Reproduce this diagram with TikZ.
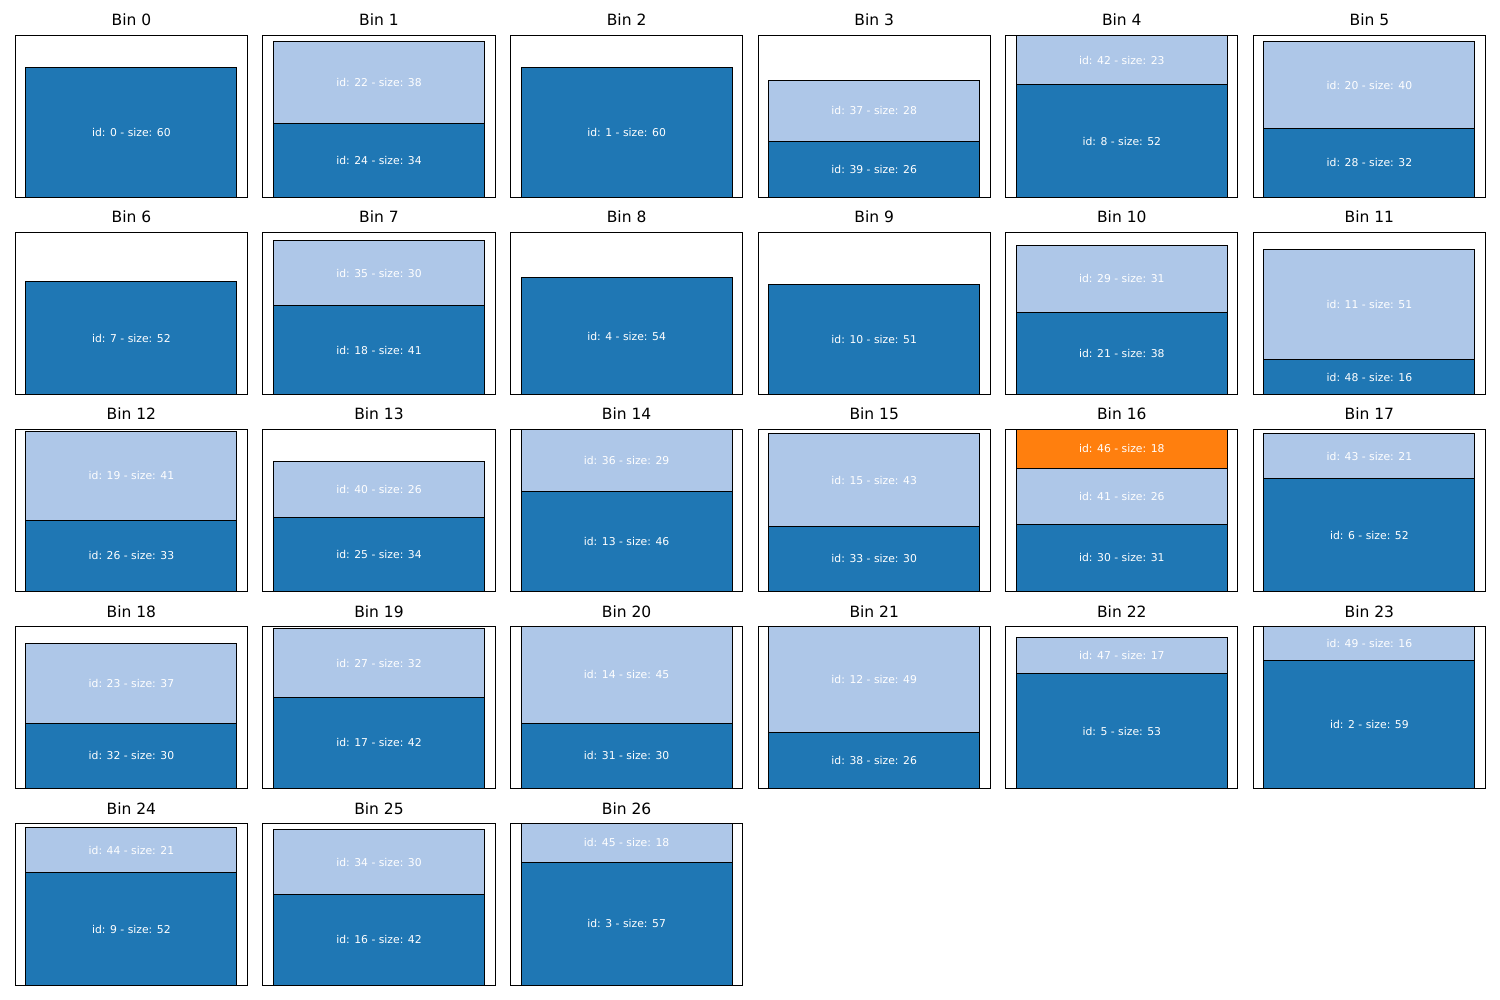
\documentclass[tikz,border=0pt]{standalone}
\usepackage{fontspec}
\setmainfont{DejaVu Sans}
\definecolor{tabblue}{HTML}{1F77B4}
\definecolor{tablight}{HTML}{AEC7E8}
\definecolor{taborange}{HTML}{FF7F0E}
\tikzset{
  frame/.style={draw=black, line width=1pt},
  seg/.style={draw=black, line width=1pt},
  seglabel/.style={text=white, font=\fontsize{10.8}{12}\selectfont, inner sep=0pt},
  bintitle/.style={font=\fontsize{15.5}{18}\selectfont, inner sep=0pt, anchor=base},
}
% #1 = bin index, #2 = list of item id/base/size/colour (stacked from the bottom)
\newcommand\binpanel[2]{%
  \pgfmathsetmacro\bcol{int(mod(#1,6))}%
  \pgfmathsetmacro\brow{int(#1/6)}%
  \pgfmathsetmacro\bpx{15.3+\bcol*247.6}%
  \pgfmathsetmacro\bpy{35.3+\brow*197}%
  \foreach \id/\b/\s/\c in {#2} {
    \pgfmathsetmacro\ya{\bpy+162-\b*2.16}
    \pgfmathsetmacro\yb{\bpy+162-(\b+\s)*2.16}
    \draw[seg, fill=\c] (\bpx+10.55,\ya) rectangle (\bpx+221.65,\yb);
    \node[seglabel] (s-#1-\id) at (\bpx+116.1,{(\ya+\yb)/2}) {id: \id{} - size: \s};
  }
  \draw[frame] (\bpx,\bpy) rectangle ++(232.2,162);
  \node[bintitle] (bin#1) at (\bpx+116.1,\bpy-9.3) {Bin #1};
}
\begin{document}
\begin{tikzpicture}[x=1pt,y=-1pt]
  \fill[white] (0,0) rectangle (1500,1000);
  \useasboundingbox (0,0) rectangle (1500,1000);
  \binpanel{0}{0/0/60/tabblue}
  \binpanel{1}{24/0/34/tabblue, 22/34/38/tablight}
  \binpanel{2}{1/0/60/tabblue}
  \binpanel{3}{39/0/26/tabblue, 37/26/28/tablight}
  \binpanel{4}{8/0/52/tabblue, 42/52/23/tablight}
  \binpanel{5}{28/0/32/tabblue, 20/32/40/tablight}
  \binpanel{6}{7/0/52/tabblue}
  \binpanel{7}{18/0/41/tabblue, 35/41/30/tablight}
  \binpanel{8}{4/0/54/tabblue}
  \binpanel{9}{10/0/51/tabblue}
  \binpanel{10}{21/0/38/tabblue, 29/38/31/tablight}
  \binpanel{11}{48/0/16/tabblue, 11/16/51/tablight}
  \binpanel{12}{26/0/33/tabblue, 19/33/41/tablight}
  \binpanel{13}{25/0/34/tabblue, 40/34/26/tablight}
  \binpanel{14}{13/0/46/tabblue, 36/46/29/tablight}
  \binpanel{15}{33/0/30/tabblue, 15/30/43/tablight}
  \binpanel{16}{30/0/31/tabblue, 41/31/26/tablight, 46/57/18/taborange}
  \binpanel{17}{6/0/52/tabblue, 43/52/21/tablight}
  \binpanel{18}{32/0/30/tabblue, 23/30/37/tablight}
  \binpanel{19}{17/0/42/tabblue, 27/42/32/tablight}
  \binpanel{20}{31/0/30/tabblue, 14/30/45/tablight}
  \binpanel{21}{38/0/26/tabblue, 12/26/49/tablight}
  \binpanel{22}{5/0/53/tabblue, 47/53/17/tablight}
  \binpanel{23}{2/0/59/tabblue, 49/59/16/tablight}
  \binpanel{24}{9/0/52/tabblue, 44/52/21/tablight}
  \binpanel{25}{16/0/42/tabblue, 34/42/30/tablight}
  \binpanel{26}{3/0/57/tabblue, 45/57/18/tablight}
\end{tikzpicture}
\end{document}
